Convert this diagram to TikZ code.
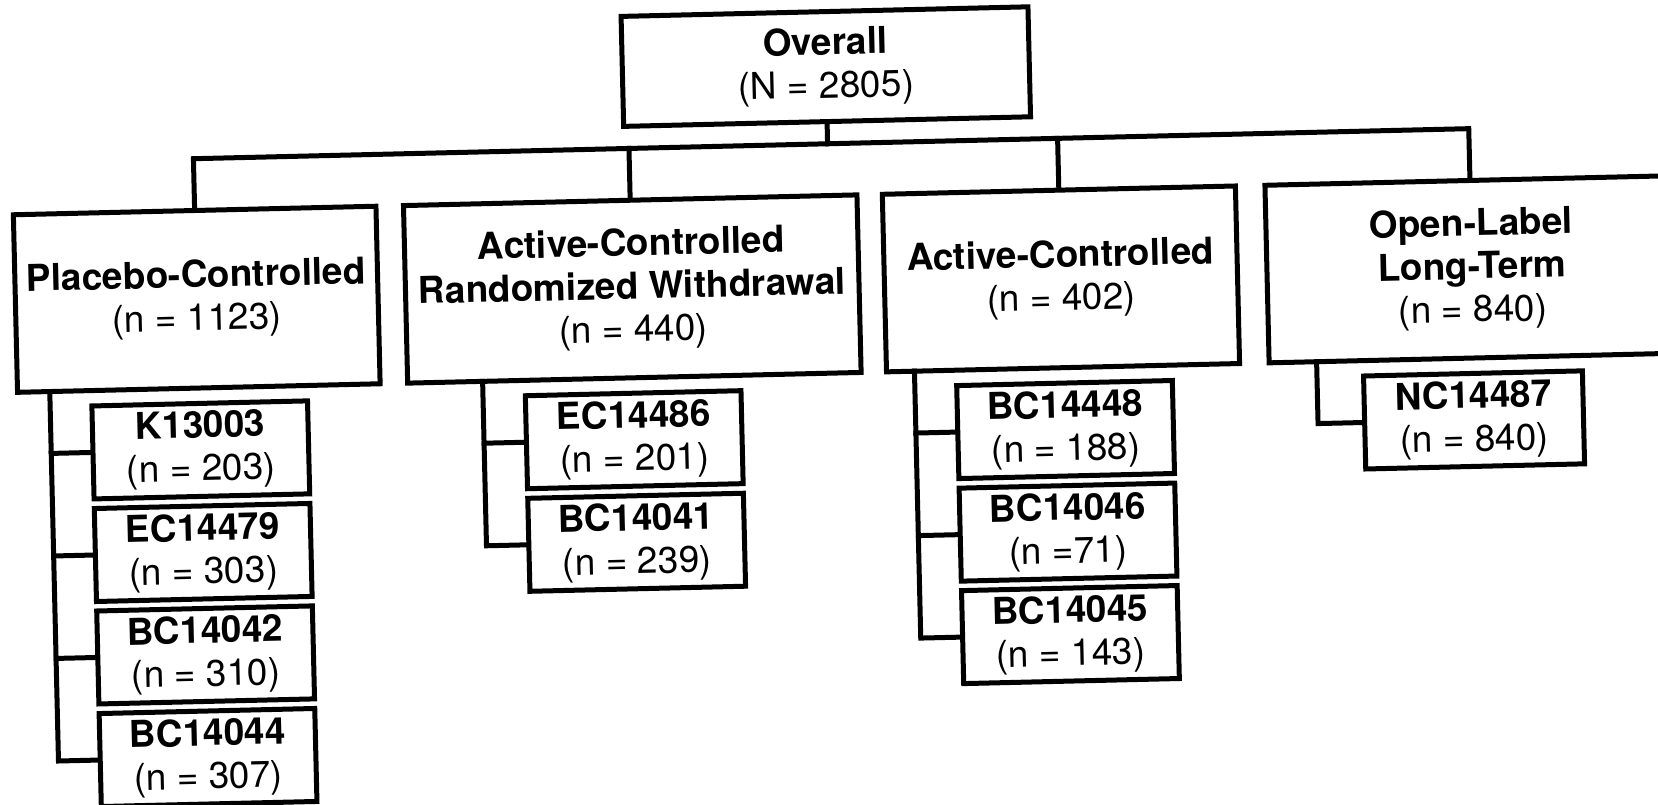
\documentclass[tikz,border=0pt]{standalone}
\usepackage{fontspec}
\setmainfont{TeX Gyre Heros}
\begin{document}
\begin{tikzpicture}[x=1pt,y=-1pt,
  box/.style={draw,line width=5pt,align=center,inner sep=0pt,
    font=\fontsize{37}{43}\selectfont,transform shape},
  midbox/.style={box,minimum height=177.6pt},
  subbox/.style={box,minimum width=215.7pt,minimum height=93pt},
  link/.style={line width=5pt,line cap=rect}]
\useasboundingbox (0,0) rectangle (1658,804);
\begin{scope}[rotate around={1.35:(829,402)}]
% top
\node[box,minimum width=407pt,minimum height=110pt] (all) at (833.7,66.6) {\textbf{Overall}\\(N = 2805)};
% middle row
\node[midbox,minimum width=362.7pt] (pc) at (199.3,284.4) {\textbf{Placebo-Controlled}\\(n = 1123)};
\node[midbox,minimum width=453.6pt] (ar) at (635,284.4) {\textbf{Active-Controlled}\\\textbf{Randomized Withdrawal}\\(n = 440)};
\node[midbox,minimum width=353.2pt] (ac) at (1063.8,284.4) {\textbf{Active-Controlled}\\(n = 402)};
\node[midbox,minimum width=410.3pt] (ol) at (1475.1,284.4) {\textbf{Open-Label}\\\textbf{Long-Term}\\(n = 840)};
% placebo studies
\node[subbox] (p1) at (199.8,435.1) {\textbf{K13003}\\(n = 203)};
\node[subbox] (p2) at (199.8,537.7) {\textbf{EC14479}\\(n = 303)};
\node[subbox] (p3) at (199.8,640.2) {\textbf{BC14042}\\(n = 310)};
\node[subbox] (p4) at (199.8,742.8) {\textbf{BC14044}\\(n = 307)};
% active randomized withdrawal studies
\node[subbox] (r1) at (633.4,435.1) {\textbf{EC14486}\\(n = 201)};
\node[subbox] (r2) at (633.4,537.7) {\textbf{BC14041}\\(n = 239)};
% active-controlled studies
\node[subbox] (a1) at (1064.9,435.1) {\textbf{BC14448}\\(n = 188)};
\node[subbox] (a2) at (1064.9,537.7) {\textbf{BC14046}\\(n =71)};
\node[subbox] (a3) at (1064.9,640.2) {\textbf{BC14045}\\(n = 143)};
% open label study
\node[subbox,minimum width=218.9pt] (o1) at (1473.5,435.1) {\textbf{NC14487}\\(n = 840)};
% bus coordinates
\coordinate (bc) at (833.7,143.8);
\coordinate (bp) at (199.3,143.8);
\coordinate (br) at (635,143.8);
\coordinate (ba) at (1063.8,143.8);
\coordinate (bo) at (1475.1,143.8);
% trunk coordinates
\coordinate (tp0) at (50.2,373.2);
\coordinate (tp1) at (50.2,435.1);
\coordinate (tp2) at (50.2,537.7);
\coordinate (tp3) at (50.2,640.2);
\coordinate (tp4) at (50.2,742.8);
\coordinate (tr0) at (483.2,373.2);
\coordinate (tr1) at (483.2,435.1);
\coordinate (tr2) at (483.2,537.7);
\coordinate (ta0) at (915.2,373.2);
\coordinate (ta1) at (915.2,435.1);
\coordinate (ta2) at (915.2,537.7);
\coordinate (ta3) at (915.2,640.2);
\coordinate (to0) at (1317.5,373.2);
\coordinate (to1) at (1317.5,435.1);
% connectors
\draw[link] (all.south) -- (bc);
\draw[link] (pc.north) -- (bp) -- (bo) -- (ol.north);
\draw[link] (ar.north) -- (br);
\draw[link] (ac.north) -- (ba);
\draw[link] (tp0) -- (tp4) -- (p4.west);
\draw[link] (tp1) -- (p1.west);
\draw[link] (tp2) -- (p2.west);
\draw[link] (tp3) -- (p3.west);
\draw[link] (tr0) -- (tr2) -- (r2.west);
\draw[link] (tr1) -- (r1.west);
\draw[link] (ta0) -- (ta3) -- (a3.west);
\draw[link] (ta1) -- (a1.west);
\draw[link] (ta2) -- (a2.west);
\draw[link] (to0) -- (to1) -- (o1.west);
\end{scope}
\end{tikzpicture}
\end{document}
